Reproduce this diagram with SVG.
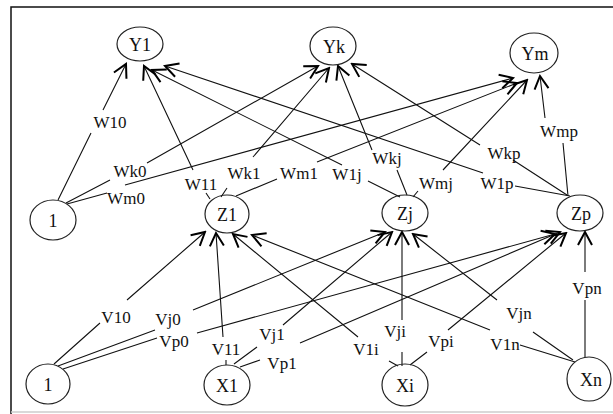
<svg xmlns="http://www.w3.org/2000/svg" width="613" height="414" viewBox="0 0 613 414">
<style>
.node ellipse{fill:none;stroke:#222;stroke-width:1.2}
.node text{font-family:"Liberation Serif","Times New Roman",serif;font-size:18px;fill:#111;text-anchor:middle}
.edge path{fill:none;stroke:#111;stroke-width:1.1;marker-end:url(#arr)}
.edge text{font-family:"Liberation Serif","Times New Roman",serif;font-size:17px;fill:#111;text-anchor:middle}
.frame{fill:none;stroke:#111;stroke-width:1.5}
</style>
<defs>
<marker id="arr" viewBox="-16 -10 18 20" refX="0" refY="0" markerWidth="18" markerHeight="20" markerUnits="userSpaceOnUse" orient="auto">
<path d="M-13,-7 L0,0 L-13,7" fill="none" stroke="#000" stroke-width="2"/>
</marker>
</defs>
<rect x="0" y="0" width="613" height="414" fill="#fff"/>
<path class="frame" d="M11,414 L11,7 L613,7"/>
<line x1="11" y1="412" x2="613" y2="412" stroke="#ccc" stroke-width="1.5"/>

<g id="connectors">
<g class="edge" id="e-W10"><path d="M58,200 L91,133 M103,110 L126,64"/><text x="110" y="128">W10</text></g>
<g class="edge" id="e-Wk0"><path d="M66,203 L110,180 M147,163 L318,66"/><text x="130" y="177">Wk0</text></g>
<g class="edge" id="e-Wm0"><path d="M67,204 L107,193 M125,185 L513,78"/><text x="126" y="204">Wm0</text></g>
<g class="edge" id="e-W11"><path d="M210,199 L206,193 M193,170 L144,66"/><text x="201" y="190">W11</text></g>
<g class="edge" id="e-Wk1"><path d="M221,197 L227,188 M253,157 L329,68"/><text x="244" y="179">Wk1</text></g>
<g class="edge" id="e-Wm1"><path d="M236,196 L277,179 M317,162 L517,83"/><text x="299" y="179">Wm1</text></g>
<g class="edge" id="e-W1j"><path d="M400,197 L368,181 M342,165 L152,70"/><text x="347" y="180">W1j</text></g>
<g class="edge" id="e-Wkj"><path d="M407,195 L397,170 M372,150 L338,66"/><text x="387" y="164">Wkj</text></g>
<g class="edge" id="e-Wmj"><path d="M413,197 L418,191 M443,170 L527,80"/><text x="436" y="189">Wmj</text></g>
<g class="edge" id="e-W1p"><path d="M570,196 L515,186 M483,173 L165,66"/><text x="497" y="189">W1p</text></g>
<g class="edge" id="e-Wkp"><path d="M567,195 L513,160 M480,145 L352,64"/><text x="504" y="159">Wkp</text></g>
<g class="edge" id="e-Wmp"><path d="M568,196 L563,143 M545,118 L540,76"/><text x="559" y="137">Wmp</text></g>

<g class="edge" id="e-V10"><path d="M54,364 L100,323 M127,300 L205,232"/><text x="116" y="323">V10</text></g>
<g class="edge" id="e-Vj0"><path d="M58,366 L155,330 M193,310 L385,232"/><text x="168" y="325">Vj0</text></g>
<g class="edge" id="e-Vp0"><path d="M63,369 L157,338 M197,333 L555,234"/><text x="174" y="347">Vp0</text></g>
<g class="edge" id="e-V11"><path d="M226,365 L226,360 M223,337 L216,233"/><text x="226" y="355">V11</text></g>
<g class="edge" id="e-Vj1"><path d="M234,364 L257,347 M283,325 L392,232"/><text x="272" y="340">Vj1</text></g>
<g class="edge" id="e-Vp1"><path d="M240,367 L260,360 M300,343 L560,232"/><text x="282" y="369">Vp1</text></g>
<g class="edge" id="e-V1i"><path d="M398,366 L389,361 M358,337 L233,234"/><text x="366" y="355">V1i</text></g>
<g class="edge" id="e-Vji"><path d="M402,366 L402,352 M402,320 L402,232"/><text x="395" y="337">Vji</text></g>
<g class="edge" id="e-Vpi"><path d="M410,365 L427,352 M448,330 L566,233"/><text x="441" y="347">Vpi</text></g>
<g class="edge" id="e-V1n"><path d="M575,362 L520,345 M490,330 L252,235"/><text x="505" y="350">V1n</text></g>
<g class="edge" id="e-Vjn"><path d="M573,360 L533,332 M497,300 L413,234"/><text x="519" y="319">Vjn</text></g>
<g class="edge" id="e-Vpn"><path d="M585,357 L585,300 M585,272 L585,232"/><text x="587" y="294">Vpn</text></g>
</g>

<g class="node" id="Y1"><ellipse cx="140" cy="44" rx="23" ry="17"/><text x="140" y="51">Y1</text></g>
<g class="node" id="Yk"><ellipse cx="333" cy="46" rx="23" ry="19"/><text x="334" y="53">Yk</text></g>
<g class="node" id="Ym"><ellipse cx="534" cy="53" rx="24" ry="20"/><text x="535" y="60">Ym</text></g>
<g class="node" id="B1"><ellipse cx="53" cy="220" rx="23" ry="20"/><text x="53" y="227">1</text></g>
<g class="node" id="Z1"><ellipse cx="227" cy="214" rx="22" ry="19"/><text x="227" y="221">Z1</text></g>
<g class="node" id="Zj"><ellipse cx="405" cy="213" rx="23" ry="18"/><text x="405" y="220">Zj</text></g>
<g class="node" id="Zp"><ellipse cx="580" cy="213" rx="23" ry="18"/><text x="581" y="220">Zp</text></g>
<g class="node" id="B0"><ellipse cx="48" cy="384" rx="22" ry="20"/><text x="48" y="391">1</text></g>
<g class="node" id="X1"><ellipse cx="227" cy="385" rx="23" ry="20"/><text x="227" y="392">X1</text></g>
<g class="node" id="Xi"><ellipse cx="405" cy="385" rx="23" ry="21"/><text x="405" y="392">Xi</text></g>
<g class="node" id="Xn"><ellipse cx="589" cy="379" rx="22" ry="22"/><text x="591" y="386">Xn</text></g>
</svg>
